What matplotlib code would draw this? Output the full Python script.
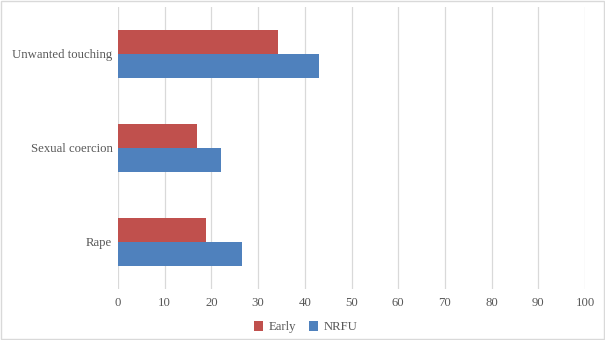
import matplotlib.pyplot as plt
import numpy as np

categories = ['Rape', 'Sexual coercion', 'Unwanted touching']
early = [18.8, 16.9, 34.3]
nrfu = [26.5, 22.1, 43.0]
xticks = list(range(0, 101, 10))

RED = '#C0504D'
BLUE = '#4F81BD'
TEXT = '#595959'
GRID = '#D9D9D9'

plt.rcParams['font.family'] = ['Liberation Serif', 'DejaVu Serif']

fig = plt.figure(figsize=(6.05, 3.4), dpi=100)
ax = fig.add_axes([0.195, 0.151, 0.772, 0.829])

y = np.arange(len(categories))
h = 0.255
ax.barh(y + h / 2, early, height=h, color=RED, label='Early', zorder=3)
ax.barh(y - h / 2, nrfu, height=h, color=BLUE, label='NRFU', zorder=3)

ax.set_xlim(0, 100)
ax.set_ylim(-0.5, 2.5)
ax.set_xticks(xticks)
ax.set_yticks(y)
ax.set_yticklabels(categories)
ax.xaxis.grid(True, color=GRID, linewidth=0.9, zorder=0)
ax.tick_params(axis='both', length=0, labelsize=9.2, colors=TEXT)
ax.tick_params(axis='x', pad=6)
ax.tick_params(axis='y', pad=4)
for s in ax.spines.values():
    s.set_visible(False)

ax.legend(loc='center', bbox_to_anchor=(0.505, 0.037), ncol=2,
          frameon=False, fontsize=9.2, handlelength=0.75, handleheight=0.75,
          columnspacing=1.0, handletextpad=0.4, labelcolor=TEXT,
          bbox_transform=fig.transFigure)

# thin border round the whole figure
fig.patches.append(plt.Rectangle((0.001, 0.002), 0.997, 0.995, transform=fig.transFigure,
                                 fill=False, edgecolor=GRID, linewidth=1))

fig.savefig('out.png', dpi=100)
